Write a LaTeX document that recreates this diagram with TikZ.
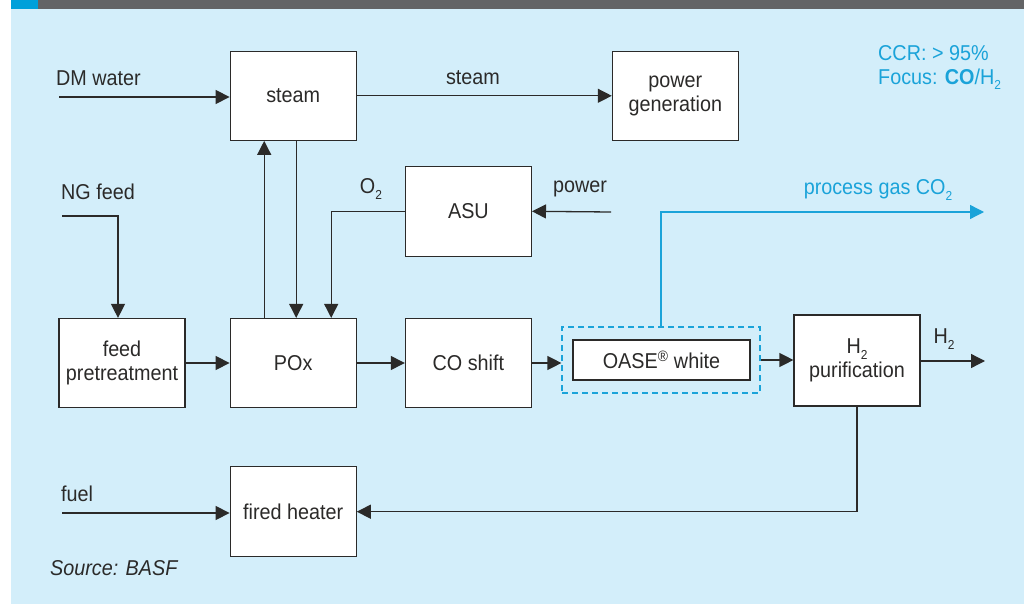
\documentclass[tikz,border=0pt]{standalone}
\usepackage{fontspec}
\setmainfont{Liberation Sans}[FakeStretch=0.92]
\usetikzlibrary{arrows.meta,positioning}
\definecolor{cbg}{HTML}{D3EEFA}
\definecolor{cbar}{HTML}{636466}
\definecolor{ctab}{HTML}{00A0DA}
\definecolor{ccyan}{HTML}{1AA3D9}
\definecolor{cink}{HTML}{2B2A29}
\newcommand{\lowsub}[1]{\raisebox{-0.5ex}{\fontsize{13}{13}\selectfont #1}}
\tikzset{
  box/.style={draw=cink,fill=white,line width=1.2pt,minimum width=126pt,minimum height=89pt,align=center,inner sep=2pt,text=cink},
  lbl/.style={text=cink,inner sep=0pt},
  flow/.style={draw=cink,line width=1.3pt,->},
  >={Triangle[length=14pt,width=14pt]}
}

\begin{document}
\begin{tikzpicture}[x=1pt,y=-1pt,font=\fontsize{21.5}{24}\selectfont]
    \useasboundingbox (0,0) rectangle (1031,604);
    \fill[cbg] (11,9) rectangle (1024,604);
    \fill[cbar] (38,0) rectangle (1024,9);
    \fill[ctab] (11,0) rectangle (38,9);

    % main row
    \node[box] (fp) at (122,363) {feed\\pretreatment};
    \node[box,right=44pt of fp] (pox) {POx};
    \node[box,right=48pt of pox] (cos) {CO shift};
    \node[draw=ccyan,line width=1.2pt,dash pattern=on 6pt off 4pt,minimum width=198pt,minimum height=66pt] (oasebox) at (661,360) {};
    \node[box,minimum width=177pt,minimum height=40pt] (oase) at (661.5,360) {OASE\textsuperscript{\textregistered} white};
    \node[box,minimum height=91pt] (h2p) at (857,360.5) {H\lowsub{2}\\purification};

    % upper and lower units
    \node[box,above=177pt of pox] (steam) {steam};
    \node[box,right=255pt of steam] (pg) {power\\generation};
    \node[box,minimum height=90pt,above=61pt of cos] (asu) {ASU};
    \node[box,minimum height=90pt,below=58pt of pox] (fh) {fired heater};

    % free ends
    \coordinate (dm) at (59,97);
    \coordinate (ng) at (62,216);
    \coordinate (pw) at (611,212);
    \coordinate (co2) at (984,212);
    \coordinate (h2out) at (985,361);
    \coordinate (fuel) at (62,513);

    \draw[flow] (dm) -- (dm -| steam.west);
    \draw[flow] (steam) -- (pg);
    \draw[flow] ([xshift=-29pt]pox.north) -- ([xshift=-29pt]steam.south);
    \draw[flow] ([xshift=3pt]steam.south) -- ([xshift=3pt]pox.north);
    \draw[flow] (asu.west) -| ([xshift=38pt]pox.north);
    \draw[flow] (pw) -- (asu.east);
    \draw[flow] (ng) -| ([xshift=-4pt]fp.north);
    \draw[flow] (fp) -- (pox);
    \draw[flow] (pox) -- (cos);
    \draw[flow] (cos) -- (cos -| oasebox.west);
    \draw[flow] (oasebox.east) -- (oasebox.east -| h2p.west);
    \draw[flow] (h2p.east |- h2out) -- (h2out);
    \draw[flow,draw=ccyan] (oasebox.north) |- (co2);
    \draw[flow] (h2p.south) |- (fh.east);
    \draw[flow] (fuel) -- (fuel -| fh.west);

    % labels
    \node[lbl,anchor=west] (ldm) at (56,78) {DM water};
    \node[lbl] (lsteam) at (473,78) {steam};
    \node[lbl,anchor=west] (lng) at (61,192) {NG feed};
    \node[lbl] (lo2) at (371,189) {O\lowsub{2}};
    \node[lbl] (lpw) at (580,189) {power};
    \node[lbl,text=ccyan] (lco2) at (878,190) {process gas CO\lowsub{2}};
    \node[lbl] (lh2) at (944,339) {H\lowsub{2}};
    \node[lbl,anchor=west] (lfuel) at (61,494) {fuel};
    \node[lbl,anchor=west,font=\fontsize{21.5}{24}\selectfont\itshape] (src) at (50,568) {Source: BASF};
    \node[lbl,text=ccyan,align=left,anchor=north west] (ccr) at (878,45) {CCR: > 95\%\\Focus: \textbf{CO}/H\lowsub{2}};
\end{tikzpicture}
\end{document}
